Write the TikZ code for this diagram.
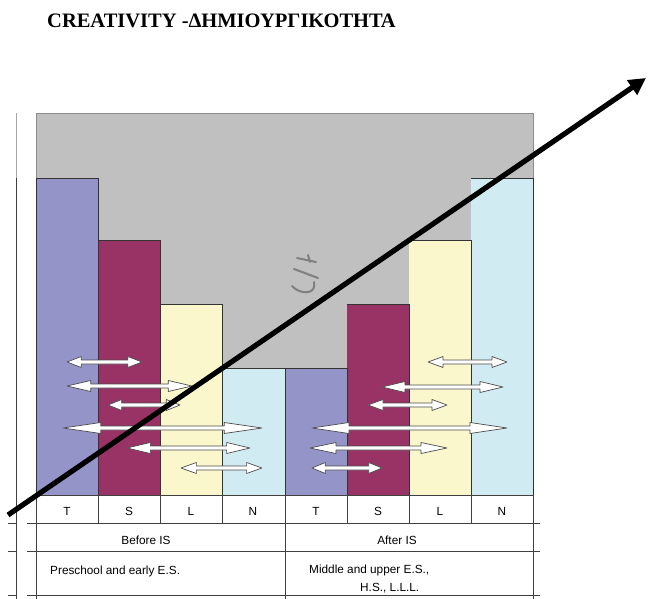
\documentclass[tikz,border=0pt]{standalone}
\usepackage{fontspec}
\setmainfont{Liberation Serif}
\newfontfamily\titlefont{Liberation Serif}[BoldFont={* Bold}]
\newfontfamily\labelfont{Liberation Sans}
\usetikzlibrary{arrows.meta}

\definecolor{barT}{RGB}{148,148,201}
\definecolor{barS}{RGB}{153,51,102}
\definecolor{barL}{RGB}{251,247,204}
\definecolor{barN}{RGB}{208,236,242}
\definecolor{plotbg}{RGB}{192,192,192}

\tikzset{
  bar/.style={draw=black!80, line width=0.8pt},
  grid/.style={draw=black!75, line width=0.9pt},
  lbl/.style={font=\labelfont\fontsize{11.8}{13}\selectfont, inner sep=0pt},
  twoway/.style={fill=white, draw=black!70, line width=0.7pt, line join=round},
  trend/.style={line width=5.2pt, -{Triangle[length=17pt,width=17pt]}}
}

% double-headed block arrow from x=#1 to x=#2 at height #3
\newcommand\twowayarrow[3]{%
  \pgfmathsetmacro\hl{max(12,0.19*(#2-#1))}%
  \path[twoway] (#1,#3) -- (#1+\hl,#3-5.5) -- (#1+\hl,#3-2) -- (#2-\hl,#3-2)
    -- (#2-\hl,#3-5.5) -- (#2,#3) -- (#2-\hl,#3+5.5) -- (#2-\hl,#3+2)
    -- (#1+\hl,#3+2) -- (#1+\hl,#3+5.5) -- cycle;}

\begin{document}
\begin{tikzpicture}[x=1pt, y=-1pt]
\useasboundingbox (0,0) rectangle (648,599);

% title
\node[anchor=base west, inner sep=0pt, font=\titlefont\bfseries\fontsize{20.5}{24}\selectfont] (title) at (47,28) {CREATIVITY -ΔΗΜΙΟΥΡΓΙΚΟΤΗΤΑ};

% plot area
\fill[plotbg] (36,113) rectangle (533,495);
\draw[black!45, line width=0.8pt] (36,495) -- (36,113) -- (533,113) -- (533,495);

% left axis line
\draw[black!35, line width=0.9pt] (16,113) -- (16,178);
\draw[black!75, line width=0.9pt] (16,178) -- (16,599);

% bars: before IS
\fill[barT] (36,178) rectangle (98,495);
\fill[barS] (98,240) rectangle (160,495);
\fill[barL] (160,304) rectangle (222,495);
\fill[barN] (222,368) rectangle (285,495);
% bars: after IS
\fill[barT] (285,368) rectangle (347,495);
\fill[barS] (347,304) rectangle (409,495);
\fill[barL] (409,240) rectangle (471,495);
\fill[barN] (471,178) rectangle (533,495);
\draw[bar] (36,495) -- (36,178) -- (98,178) -- (98,495);
\draw[bar] (98,240) -- (160,240) -- (160,495);
\draw[bar] (160,304) -- (222,304) -- (222,495);
\draw[bar] (222,368) -- (285,368) -- (285,495);
\draw[bar] (285,368) -- (347,368) -- (347,495);
\draw[bar] (347,304) -- (409,304) -- (409,495);
\draw[bar] (409,240) -- (471,240) -- (471,495);
\draw[bar] (471,178) -- (533,178) -- (533,495);

% faint mark in the plot area
\begin{scope}[draw=black!50, line width=2pt, line cap=round]
  \draw (297,258) -- (316,262);
  \draw (308,255) -- (310,262);
  \draw (294,269) -- (318,278);
  \draw (292,286) .. controls (300,295) and (317,295) .. (314,282);
\end{scope}

% table
\draw[grid] (36,495) -- (533,495);
\draw[grid] (27,523) -- (540,523);
\draw[grid] (27,551) -- (540,551);
\draw[grid] (27,595) -- (540,595);
\draw[grid] (8,523) -- (17,523);
\draw[grid] (8,551) -- (17,551);
\draw[grid] (8,595) -- (17,595);
\foreach \x in {98,160,222,347,409,471} \draw[grid] (\x,495) -- (\x,523);
\foreach \x in {36,285,533} \draw[grid] (\x,495) -- (\x,599);

\node[lbl] (t1) at (67,511) {T};
\node[lbl] (s1) at (129,511) {S};
\node[lbl] (l1) at (191,511) {L};
\node[lbl] (n1) at (253,511) {N};
\node[lbl] (t2) at (316,511) {T};
\node[lbl] (s2) at (378,511) {S};
\node[lbl] (l2) at (440,511) {L};
\node[lbl] (n2) at (502,511) {N};
\node[lbl] (before) at (146,540) {Before IS};
\node[lbl] (after) at (397,540) {After IS};
\node[lbl, anchor=west] (early) at (50,571) {Preschool and early E.S.};
\node[lbl, anchor=west] (later) at (309,570) {Middle and upper E.S.,};
\node[lbl, anchor=west] (later2) at (360,588) {H.S., L.L.L.};

% two-way arrows, before IS
\twowayarrow{67}{142}{362}
\twowayarrow{67}{192}{386}
\twowayarrow{108}{180}{405}
\twowayarrow{63}{262}{428}
\twowayarrow{127}{250}{448}
\twowayarrow{181}{262}{468}
% two-way arrows, after IS
\twowayarrow{428}{507}{362}
\twowayarrow{382}{503}{387}
\twowayarrow{368}{447}{405}
\twowayarrow{312}{507}{428}
\twowayarrow{310}{447}{448}
\twowayarrow{312}{382}{468}

% rising trend arrow
\coordinate (trendstart) at (8,515);
\coordinate (trendend) at (646,78);
\draw[trend] (trendstart) -- (trendend);
\end{tikzpicture}
\end{document}
